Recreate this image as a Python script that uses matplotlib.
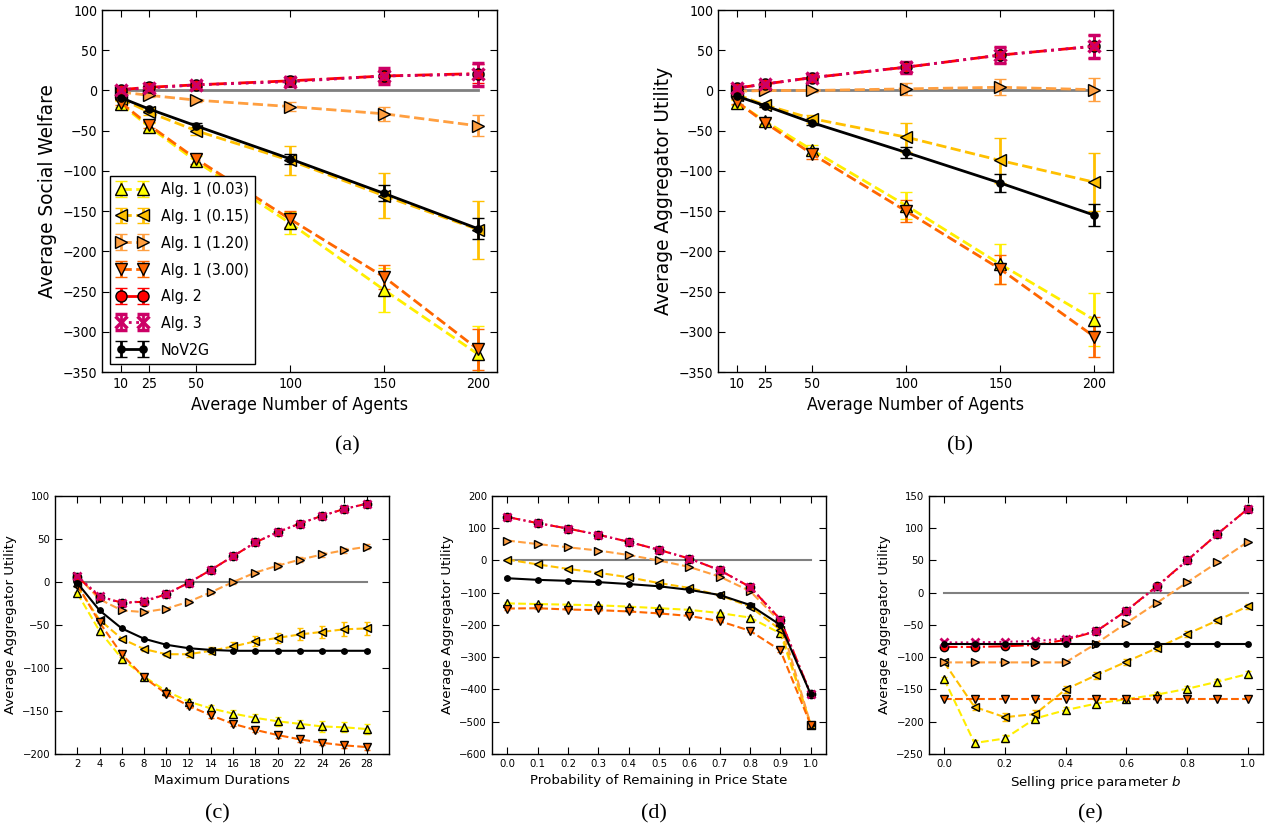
import matplotlib
matplotlib.use('Agg')
import matplotlib.pyplot as plt
from matplotlib import font_manager

# x values
agents = [10, 25, 50, 100, 150, 200]
durations = [2, 4, 6, 8, 10, 12, 14, 16, 18, 20, 22, 24, 26, 28]
probs = [0.0, 0.1, 0.2, 0.3, 0.4, 0.5, 0.6, 0.7, 0.8, 0.9, 1.0]
bvals = [0.0, 0.1, 0.2, 0.3, 0.4, 0.5, 0.6, 0.7, 0.8, 0.9, 1.0]

names = ['Alg. 1 (0.03)', 'Alg. 1 (0.15)', 'Alg. 1 (1.20)', 'Alg. 1 (3.00)',
         'Alg. 2', 'Alg. 3', 'NoV2G']

# (a) social welfare
a_alg1_003 = [-17, -45, -88, -165, -248, -328]
a_alg1_015 = [-10, -27, -50, -87, -131, -173]
a_alg1_120 = [-2, -6, -12, -20, -29, -44]
a_alg1_300 = [-15, -43, -85, -160, -232, -322]
a_alg2 = [1, 4, 7, 12, 18, 21]
a_alg3 = [1, 3, 7, 11, 18, 20]
a_nov2g = [-9, -23, -44, -85, -128, -172]
a_alg1_003_err = [4, 5, 6, 14, 27, 35]
a_alg1_015_err = [2, 3, 5, 18, 28, 36]
a_alg1_120_err = [1, 2, 2, 6, 9, 13]
a_alg1_300_err = [3, 4, 6, 10, 15, 25]
a_alg2_err = [2, 2, 3, 5, 8, 12]
a_alg3_err = [3, 3, 4, 6, 10, 14]
a_nov2g_err = [2, 2, 3, 6, 10, 13]

# (b) aggregator utility vs agents
b_alg1_003 = [-15, -38, -74, -143, -216, -285]
b_alg1_015 = [-5, -18, -35, -58, -87, -114]
b_alg1_120 = [-1, 0, 0, 2, 4, 1]
b_alg1_300 = [-14, -40, -79, -150, -222, -306]
b_alg2 = [3, 8, 16, 29, 44, 55]
b_alg3 = [3, 8, 16, 29, 44, 55]
b_nov2g = [-7, -19, -40, -77, -115, -155]
b_alg1_003_err = [3, 4, 6, 17, 25, 33]
b_alg1_015_err = [2, 3, 5, 18, 28, 36]
b_alg1_120_err = [1, 1, 2, 7, 10, 14]
b_alg1_300_err = [3, 4, 6, 14, 18, 25]
b_alg2_err = [2, 3, 4, 7, 10, 14]
b_alg3_err = [3, 3, 4, 7, 10, 14]
b_nov2g_err = [2, 2, 3, 7, 11, 14]

# (c) maximum durations
c_alg1_003 = [-13, -57, -89, -110, -127, -139, -147, -153, -158, -162, -165, -168, -169, -171]
c_alg1_015 = [-5, -44, -66, -78, -84, -84, -80, -75, -69, -65, -61, -58, -55, -54]
c_alg1_120 = [7, -20, -33, -35, -31, -23, -12, 0, 11, 19, 26, 32, 37, 41]
c_alg1_300 = [-3, -47, -84, -111, -130, -144, -155, -165, -172, -178, -183, -187, -190, -192]
c_alg2 = [6, -17, -24, -23, -14, -1, 14, 30, 46, 58, 68, 77, 85, 91]
c_alg3 = [7, -16, -25, -22, -14, -1, 14, 30, 46, 58, 68, 77, 85, 91]
c_nov2g = [-1, -33, -54, -66, -73, -77, -79, -80, -80, -80, -80, -80, -80, -80]
c_alg1_003_err = [1, 1, 2, 2, 3, 3, 4, 4, 5, 5, 5, 6, 6, 6]
c_alg1_015_err = [1, 1, 1, 2, 2, 3, 4, 5, 6, 6, 7, 7, 8, 8]
c_alg1_120_err = [1, 1, 1, 1, 1, 2, 2, 2, 2, 3, 3, 3, 3, 3]
c_alg1_300_err = [1, 1, 1, 2, 2, 2, 3, 3, 3, 3, 3, 3, 3, 3]
c_alg2_err = [1, 1, 1, 1, 1, 1, 1, 1, 1, 1, 1, 1, 1, 1]
c_alg3_err = [1, 1, 1, 1, 1, 1, 1, 1, 1, 1, 1, 1, 1, 1]
c_nov2g_err = [1, 1, 1, 1, 1, 1, 1, 1, 1, 1, 1, 1, 1, 1]

# (d) probability of remaining in price state
d_alg1_003 = [-133, -135, -137, -139, -143, -148, -153, -163, -177, -226, -510]
d_alg1_015 = [3, -12, -26, -38, -52, -70, -85, -108, -143, -215, -510]
d_alg1_120 = [62, 51, 41, 31, 17, 0, -20, -50, -95, -190, -510]
d_alg1_300 = [-149, -148, -152, -154, -158, -164, -172, -188, -218, -279, -510]
d_alg2 = [135, 116, 99, 80, 58, 33, 6, -30, -82, -183, -415]
d_alg3 = [135, 116, 99, 80, 58, 33, 6, -30, -82, -183, -415]
d_nov2g = [-55, -60, -63, -67, -73, -80, -91, -107, -138, -200, -415]
d_err = [3, 3, 3, 3, 3, 3, 4, 4, 5, 6, 6]

# (e) selling price parameter b
e_alg1_003 = [-134, -233, -226, -195, -182, -172, -165, -158, -149, -138, -126]
e_alg1_015 = [-108, -177, -193, -188, -150, -128, -107, -86, -64, -43, -21]
e_alg1_120 = [-108, -108, -108, -108, -108, -79, -47, -16, 16, 47, 79]
e_alg1_300 = [-165, -165, -165, -165, -165, -165, -165, -165, -165, -165, -165]
e_alg2 = [-84, -84, -83, -81, -73, -60, -28, 10, 50, 91, 130]
e_alg3 = [-77, -77, -76, -75, -71, -60, -28, 9, 50, 91, 130]
e_nov2g = [-80, -80, -80, -80, -80, -80, -80, -80, -80, -80, -80]
e_err = [3, 5, 6, 6, 5, 5, 5, 4, 4, 4, 4]

line_colors = ['#FFEE00', '#FFC000', '#FF9F40', '#FF6600', '#FF0000', '#CC0066', 'black']
face_colors = ['#FFFF00', '#FFC000', '#FF9F40', '#FF6600', '#FF0000', '#CC0066', 'black']
markers = ['^', '<', '>', 'v', 'o', 'x', 'o']
styles = ['--', '--', '--', '--', '-.', ':', '-']

# top figures look horizontally squeezed: use the condensed face if there is one
cond = font_manager.FontProperties(family='DejaVu Sans', stretch='condensed')
cond_path = font_manager.findfont(cond, fallback_to_default=True)
if 'Condensed' in cond_path:
    top_font = font_manager.FontProperties(fname=cond_path)
    k = 1.12
else:
    top_font = font_manager.FontProperties(family='DejaVu Sans')
    k = 1.0


def draw(ax, x, series, errs, big):
    ms = 8 if big else 6
    lw = 2 if big else 1.5
    ax.plot([x[0], x[-1]], [0, 0], color='gray', lw=lw, zorder=1)
    for i, (vals, err) in enumerate(zip(series, errs)):
        size = ms
        if i == 6:
            size = ms * 0.65
        mew = 1
        if markers[i] == 'x':
            mew = 2.5 if big else 2
        ax.errorbar(x, vals, yerr=err, color=line_colors[i], ls=styles[i], lw=lw,
                    marker=markers[i], ms=size, mfc=face_colors[i],
                    mec=('#CC0066' if markers[i] == 'x' else 'black'), mew=mew,
                    ecolor=line_colors[i], elinewidth=lw, capsize=4 if big else 2.5,
                    capthick=lw, label=names[i])
    ax.tick_params(direction='in', top=True, right=True, length=5, width=0.8)
    for s in ax.spines.values():
        s.set_linewidth(1)


def style_top(ax, ylabel):
    fp = top_font.copy()
    fp.set_size(9.0 * k)
    for lab in ax.get_xticklabels() + ax.get_yticklabels():
        lab.set_fontproperties(fp)
    fx = top_font.copy()
    fx.set_size(11.4 * k)
    ax.set_xlabel('Average Number of Agents', fontproperties=fx)
    ax.set_ylabel(ylabel, fontsize=13.4)


fig = plt.figure(figsize=(12.67, 8.30), dpi=100)

ax_a = fig.add_axes([0.0805, 0.5518, 0.3118, 0.4361])
draw(ax_a, agents,
     [a_alg1_003, a_alg1_015, a_alg1_120, a_alg1_300, a_alg2, a_alg3, a_nov2g],
     [a_alg1_003_err, a_alg1_015_err, a_alg1_120_err, a_alg1_300_err, a_alg2_err, a_alg3_err, a_nov2g_err],
     True)
ax_a.set_xlim(0, 210)
ax_a.set_ylim(-350, 100)
ax_a.set_xticks(agents)
ax_a.set_yticks(range(-350, 101, 50))
style_top(ax_a, 'Average Social Welfare')
leg_font = top_font.copy()
leg_font.set_size(10.2 * k)
leg = ax_a.legend(loc='lower left', prop=leg_font, numpoints=2, fancybox=False,
                  edgecolor='black', framealpha=1, labelspacing=0.74, handlelength=2.0)
leg.get_frame().set_linewidth(1)

ax_b = fig.add_axes([0.5667, 0.5518, 0.3118, 0.4361])
draw(ax_b, agents,
     [b_alg1_003, b_alg1_015, b_alg1_120, b_alg1_300, b_alg2, b_alg3, b_nov2g],
     [b_alg1_003_err, b_alg1_015_err, b_alg1_120_err, b_alg1_300_err, b_alg2_err, b_alg3_err, b_nov2g_err],
     True)
ax_b.set_xlim(0, 210)
ax_b.set_ylim(-350, 100)
ax_b.set_xticks(agents)
ax_b.set_yticks(range(-350, 101, 50))
style_top(ax_b, 'Average Aggregator Utility')

ax_c = fig.add_axes([0.0434, 0.0916, 0.2636, 0.3108])
draw(ax_c, durations,
     [c_alg1_003, c_alg1_015, c_alg1_120, c_alg1_300, c_alg2, c_alg3, c_nov2g],
     [c_alg1_003_err, c_alg1_015_err, c_alg1_120_err, c_alg1_300_err, c_alg2_err, c_alg3_err, c_nov2g_err],
     False)
ax_c.set_xlim(0, 30)
ax_c.set_ylim(-200, 100)
ax_c.set_xticks(durations)
ax_c.set_yticks(range(-200, 101, 50))
ax_c.tick_params(labelsize=7.3)
ax_c.set_xlabel('Maximum Durations', fontsize=9.6)
ax_c.set_ylabel('Average Aggregator Utility', fontsize=9.6)

ax_d = fig.add_axes([0.3883, 0.0916, 0.2636, 0.3108])
draw(ax_d, probs,
     [d_alg1_003, d_alg1_015, d_alg1_120, d_alg1_300, d_alg2, d_alg3, d_nov2g],
     [d_err] * 7, False)
ax_d.set_xlim(-0.05, 1.05)
ax_d.set_ylim(-600, 200)
ax_d.set_xticks(probs)
ax_d.set_yticks(range(-600, 201, 100))
ax_d.tick_params(labelsize=7.3)
ax_d.set_xlabel('Probability of Remaining in Price State', fontsize=9.6)
ax_d.set_ylabel('Average Aggregator Utility', fontsize=9.6)

ax_e = fig.add_axes([0.7332, 0.0916, 0.2636, 0.3108])
draw(ax_e, bvals,
     [e_alg1_003, e_alg1_015, e_alg1_120, e_alg1_300, e_alg2, e_alg3, e_nov2g],
     [e_err, e_err, None, None, None, None, None], False)
ax_e.set_xlim(-0.05, 1.05)
ax_e.set_ylim(-250, 150)
ax_e.set_xticks([0.0, 0.2, 0.4, 0.6, 0.8, 1.0])
ax_e.set_yticks(range(-250, 151, 50))
ax_e.tick_params(labelsize=7.3)
ax_e.set_xlabel('Selling price parameter $b$', fontsize=9.6)
ax_e.set_ylabel('Average Aggregator Utility', fontsize=9.6)

# panel captions
for txt, xp, yp in [('(a)', 347, 446), ('(b)', 960, 446),
                    ('(c)', 217, 814), ('(d)', 654, 814), ('(e)', 1090, 814)]:
    fig.text(xp / 1267, 1 - yp / 830, txt, ha='center', va='center',
             fontsize=16, family='Liberation Serif')

fig.savefig('out.png', dpi=100)
